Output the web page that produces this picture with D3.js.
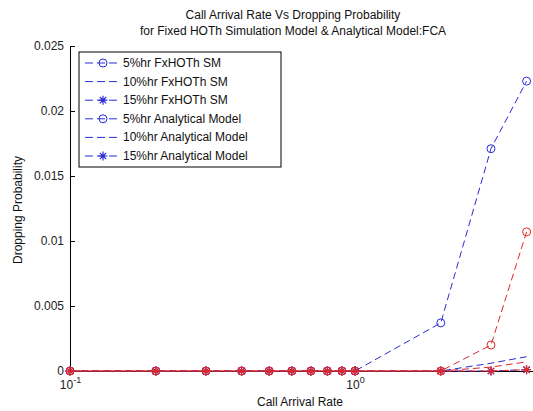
<!DOCTYPE html>
<html>
<head>
<meta charset="utf-8">
<script src="https://cdn.jsdelivr.net/npm/d3@7"></script>
<style>
  body { margin: 0; background: #fff; }
  svg { display: block; font-family: "Liberation Sans", Arial, sans-serif; }
</style>
</head>
<body>
<div id="chart"></div>
<script>
// Call arrival rates (x) and dropping probabilities per series
var arrivalRates = [0.1, 0.2, 0.3, 0.4, 0.5, 0.6, 0.7, 0.8, 0.9, 1, 2, 3, 4];
var sm5  = [0, 0, 0, 0, 0, 0, 0, 0, 0, 0, 0.0037, 0.0171, 0.0223];
var sm10 = [0, 0, 0, 0, 0, 0, 0, 0, 0, 0, 0, 0.0006, 0.0011];
var sm15 = [0, 0, 0, 0, 0, 0, 0, 0, 0, 0, 0, 0, 0.0001];
var an5  = [0, 0, 0, 0, 0, 0, 0, 0, 0, 0, 0, 0.0020, 0.0107];
var an10 = [0, 0, 0, 0, 0, 0, 0, 0, 0, 0, 0, 0.0003, 0.0007];
var an15 = [0, 0, 0, 0, 0, 0, 0, 0, 0, 0, 0, 0, 0.0001];
var yTicks = [0, 0.005, 0.01, 0.015, 0.02, 0.025];
var xTicks = [0.1, 1];

var blue = "#2b2bd6", red = "#e02828";

var series = [
  {name: "5%hr FxHOTh SM",         values: sm5,  color: blue, marker: "circle", dashOffset: 0},
  {name: "10%hr FxHOTh SM",        values: sm10, color: blue, marker: "none",   dashOffset: 0},
  {name: "15%hr FxHOTh SM",        values: sm15, color: blue, marker: "star",   dashOffset: 0},
  {name: "5%hr Analytical Model",  values: an5,  color: red,  marker: "circle", dashOffset: 0},
  {name: "10%hr Analytical Model", values: an10, color: red,  marker: "none",   dashOffset: 4},
  {name: "15%hr Analytical Model", values: an15, color: red,  marker: "star",   dashOffset: 8}
];

var svgWidth = 533, svgHeight = 411;
var plotLeft = 70, plotTop = 46, plotBottom = 371;

var svg = d3.select("#chart").append("svg")
            .attr("width", svgWidth)
            .attr("height", svgHeight);

// log x scale: one decade = 285px, continues past the right edge
var x = d3.scaleLog().domain([0.1, 10]).range([plotLeft, plotLeft + 2 * 285]);
var y = d3.scaleLinear().domain([0, 0.025]).range([plotBottom, plotTop]);

// Axes
var xAxis = svg.append("g")
               .attr("transform", "translate(0," + plotBottom + ")")
               .call(d3.axisBottom(x).tickValues(xTicks).tickSizeInner(-5).tickSizeOuter(0).tickFormat(""));
xAxis.select(".domain").attr("stroke", "#000");
xAxis.selectAll(".tick").each(function(d) {
  var t = d3.select(this).append("text")
            .attr("y", 18)
            .attr("fill", "#222")
            .attr("font-size", "12px")
            .attr("text-anchor", "middle");
  t.append("tspan").text("10");
  t.append("tspan").attr("dy", -6).attr("font-size", "9px").text(Math.round(Math.log10(d)));
});

var yAxis = svg.append("g")
               .attr("transform", "translate(" + plotLeft + ",0)")
               .call(d3.axisLeft(y).tickValues(yTicks).tickSizeInner(-5).tickSizeOuter(0).tickPadding(6)
                       .tickFormat(function(d) { return String(+d.toFixed(3)); }));
yAxis.select(".domain").attr("stroke", "#000");
yAxis.selectAll("text").attr("font-size", "12px").attr("fill", "#222")
     .attr("font-family", "Liberation Sans, Arial, sans-serif");

// Lines
var line = d3.line()
             .x(function(d, i) { return x(arrivalRates[i]); })
             .y(function(d) { return y(d); });

function starPath(r) {
  var a = r * 0.7071;
  return "M" + (-r) + ",0L" + r + ",0M0," + (-r) + "L0," + r +
         "M" + (-a) + "," + (-a) + "L" + a + "," + a +
         "M" + (-a) + "," + a + "L" + a + "," + (-a);
}

function drawMarker(g, kind, color, cx, cy) {
  if (kind === "circle") {
    g.append("circle").attr("cx", cx).attr("cy", cy).attr("r", 4)
     .attr("fill", "none").attr("stroke", color).attr("stroke-width", 1);
  } else if (kind === "star") {
    g.append("path").attr("d", starPath(4.5))
     .attr("transform", "translate(" + cx + "," + cy + ")")
     .attr("fill", "none").attr("stroke", color).attr("stroke-width", 1.2);
  }
}

var plot = svg.append("g");
series.forEach(function(s) {
  plot.append("path")
      .attr("d", line(s.values))
      .attr("fill", "none")
      .attr("stroke", s.color)
      .attr("stroke-width", 1)
      .attr("stroke-dasharray", "7,4")
      .attr("stroke-dashoffset", s.dashOffset);
  var mg = plot.append("g");
  s.values.forEach(function(v, i) {
    drawMarker(mg, s.marker, s.color, x(arrivalRates[i]), y(v));
  });
});

// Legend (all entries drawn in blue, as in the original figure)
var legend = svg.append("g");
legend.append("rect")
      .attr("x", 79).attr("y", 52).attr("width", 202).attr("height", 115)
      .attr("fill", "#fff").attr("stroke", "#000").attr("stroke-width", 1);
series.forEach(function(s, i) {
  var ly = 63 + i * 18.6;
  legend.append("line")
        .attr("x1", 85).attr("x2", 121).attr("y1", ly).attr("y2", ly)
        .attr("stroke", blue).attr("stroke-width", 1).attr("stroke-dasharray", "8,4");
  drawMarker(legend, s.marker, blue, 103, ly);
  legend.append("text")
        .attr("x", 123).attr("y", ly + 4)
        .attr("font-size", "12px").attr("fill", "#111")
        .text(s.name);
});

// Titles and labels
svg.append("text").attr("x", 293).attr("y", 19).attr("text-anchor", "middle")
   .attr("font-size", "12px").attr("fill", "#111")
   .text("Call Arrival Rate Vs Dropping Probability");
svg.append("text").attr("x", 293).attr("y", 35).attr("text-anchor", "middle")
   .attr("font-size", "12px").attr("fill", "#111")
   .text("for Fixed HOTh Simulation Model & Analytical Model:FCA");
svg.append("text").attr("x", 300).attr("y", 406).attr("text-anchor", "middle")
   .attr("font-size", "12px").attr("fill", "#111")
   .text("Call Arrival Rate");
svg.append("text").attr("transform", "translate(22,210) rotate(-90)")
   .attr("text-anchor", "middle")
   .attr("font-size", "12px").attr("fill", "#111")
   .text("Dropping Probability");
</script>
</body>
</html>
